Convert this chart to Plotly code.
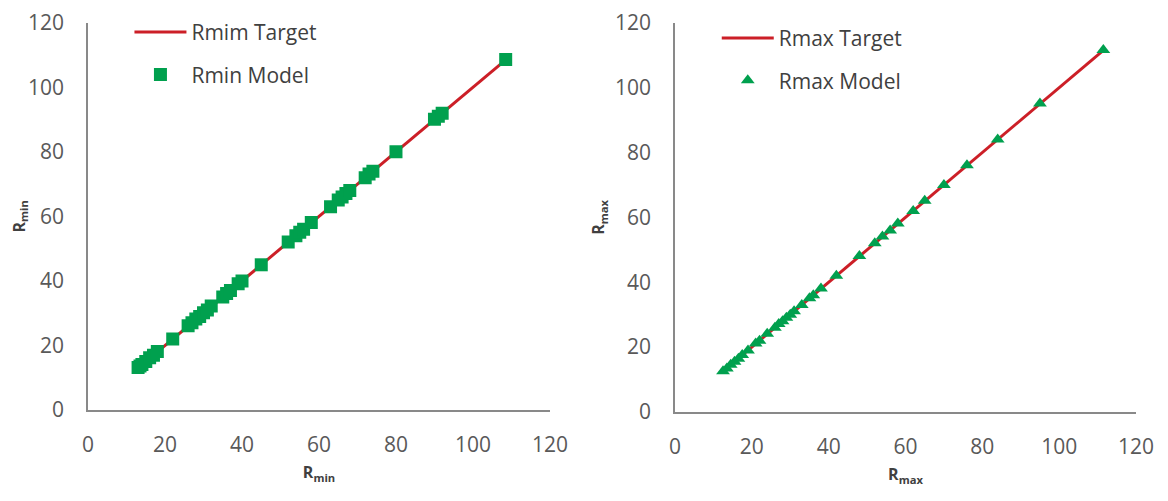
import plotly.graph_objects as go

# Left panel: Rmin
rmin_target = [13, 13.5, 14, 15, 16, 17, 18, 22, 26, 27, 28, 29, 30, 31, 32, 35, 36, 37, 39, 40,
               45, 52, 54, 55, 56, 58, 63, 65, 66, 67, 68, 72, 73, 74, 80, 90, 91, 92, 108.5]
rmin_model = [13.2, 13.6, 14.1, 15.0, 16.2, 17.0, 18.1, 22.0, 26.1, 27.0, 28.2, 29.0, 30.1, 31.0, 32.2,
              35.0, 36.1, 37.0, 39.1, 40.0, 45.0, 52.1, 54.0, 55.1, 56.0, 58.1, 63.0, 65.1, 66.0, 67.1,
              68.0, 72.0, 73.1, 74.0, 80.0, 90.1, 91.0, 92.0, 108.6]

# Right panel: Rmax
rmax_target = [12.5, 13.5, 14.5, 15.5, 16.5, 17.5, 19, 21, 22, 24, 26, 27, 28, 29, 30, 31, 33, 35,
               36, 38, 42, 48, 52, 54, 56, 58, 62, 65, 70, 76, 84, 95, 111.5]
rmax_model = [12.6, 13.4, 14.6, 15.5, 16.4, 17.6, 19.0, 21.1, 22.0, 24.1, 26.0, 27.1, 28.0, 29.1, 30.0,
              31.1, 33.0, 35.1, 36.0, 38.1, 42.0, 48.1, 52.0, 54.1, 56.0, 58.1, 62.0, 65.1, 70.0, 76.1,
              84.0, 95.1, 111.6]

tick_vals = [0, 20, 40, 60, 80, 100, 120]

RED = "#CC1F27"
GREEN = "#00A04E"
FONT = "Open Sans"
TICK_COLOR = "#595959"
AXIS_COLOR = "#898989"

fig = go.Figure()

fig.add_trace(go.Scatter(x=rmin_target, y=rmin_target, mode="lines", name="Rmim Target",
                         line=dict(color=RED, width=3), xaxis="x", yaxis="y",
                         legend="legend", legendgroup="a"))
fig.add_trace(go.Scatter(x=rmin_target, y=rmin_model, mode="markers", name="Rmin Model",
                         marker=dict(color=GREEN, symbol="square", size=13),
                         xaxis="x", yaxis="y", legend="legend", legendgroup="b"))
fig.add_trace(go.Scatter(x=rmax_target, y=rmax_target, mode="lines", name="Rmax Target",
                         line=dict(color=RED, width=3), xaxis="x2", yaxis="y2",
                         legend="legend2", legendgroup="c"))
fig.add_trace(go.Scatter(x=rmax_target, y=rmax_model, mode="markers", name="Rmax Model",
                         marker=dict(color=GREEN, symbol="triangle-up", size=12),
                         xaxis="x2", yaxis="y2", legend="legend2", legendgroup="d"))

axis_common = dict(range=[0, 120], tickvals=tick_vals, showgrid=False, zeroline=False,
                   showline=True, linecolor=AXIS_COLOR, linewidth=1.5, ticks="",
                   automargin=False, ticklabeloverflow="allow",
                   tickfont=dict(family=FONT, size=21, color=TICK_COLOR), fixedrange=True)
title_font = dict(family=FONT, size=16, color="#404040")

fig.update_layout(
    width=1160, height=493,
    margin=dict(l=0, r=0, t=0, b=0, autoexpand=False),
    paper_bgcolor="white", plot_bgcolor="white",
    font=dict(family=FONT, color=TICK_COLOR),
    xaxis=dict(domain=[0.0690, 0.4672], anchor="y", ticklabelstandoff=15,
               title=dict(text="<b>R<sub>min</sub></b>", standoff=10, font=title_font), **axis_common),
    yaxis=dict(domain=[0.1846, 0.9700], anchor="x", ticklabelstandoff=18,
               title=dict(text="<b>R<sub>min</sub></b>", standoff=6, font=title_font), **axis_common),
    xaxis2=dict(domain=[0.5750, 0.9724], anchor="y2", ticklabelstandoff=15,
                title=dict(text="<b>R<sub>max</sub></b>", standoff=10, font=title_font), **axis_common),
    yaxis2=dict(domain=[0.1805, 0.9700], anchor="x2", ticklabelstandoff=18,
                title=dict(text="<b>R<sub>max</sub></b>", standoff=6, font=title_font), **axis_common),
    legend=dict(x=0.1047, y=0.992, xanchor="left", yanchor="top", bgcolor="rgba(0,0,0,0)",
                font=dict(family=FONT, size=21, color="#404040"), itemwidth=52,
                tracegroupgap=12, traceorder="grouped"),
    legend2=dict(x=0.611, y=0.980, xanchor="left", yanchor="top", bgcolor="rgba(0,0,0,0)",
                 font=dict(family=FONT, size=21, color="#404040"), itemwidth=52,
                 tracegroupgap=12, traceorder="grouped"),
)

fig.write_html("out.html")
